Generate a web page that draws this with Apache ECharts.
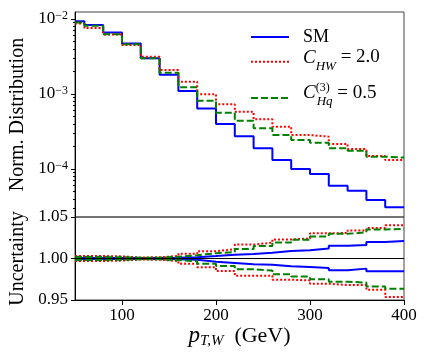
<!DOCTYPE html>
<html lang="en">
<head>
    <meta charset="UTF-8">
    <title>pTW distribution</title>
    <style>
        body { margin: 0; background: #fff; }
        .chart { width: 426px; height: 361px; }
    </style>
</head>
<body>
    <div class="chart"></div>
    <script src="https://cdn.jsdelivr.net/npm/echarts@6.0.0/dist/echarts.min.js"></script>
    <script>
        // bin edges (GeV) and per-bin values
        const binEdges = [50, 60, 80, 100, 120, 140, 160, 180, 200, 220, 240, 260, 280, 300, 320, 340, 360, 380, 400]
        const smDist = [0.0093, 0.0083, 0.0066, 0.0047, 0.0030, 0.00181, 0.0011, 0.00064, 0.000398, 0.000273, 0.000189, 0.000132, 0.000100, 0.0000857, 0.0000598, 0.0000514, 0.0000386, 0.0000308]
        const chwDist = [0.0087, 0.0076, 0.0062, 0.0045, 0.00314, 0.00209, 0.00146, 0.00099, 0.00073, 0.00058, 0.00046, 0.000367, 0.000284, 0.00027, 0.000216, 0.000185, 0.000149, 0.000132]
        const chqDist = [0.0090, 0.0081, 0.00625, 0.0046, 0.0030, 0.00192, 0.00123, 0.00081, 0.000564, 0.00044, 0.000349, 0.000284, 0.000244, 0.000224, 0.000189, 0.000175, 0.000146, 0.000142]

        // uncertainty bands (ratio)
        const smUp = [1.0007, 1.0007, 1.0006, 1.0005, 1.0005, 1.0008, 1.0016, 1.0030, 1.0045, 1.0055, 1.0070, 1.0090, 1.0098, 1.0120, 1.0155, 1.0162, 1.0198, 1.0210]
        const smDown = [0.9993, 0.9993, 0.9994, 0.9995, 0.9995, 0.9992, 0.9984, 0.9960, 0.9945, 0.9930, 0.9925, 0.9908, 0.9898, 0.9886, 0.9858, 0.9878, 0.9845, 0.9845]
        const chwUp = [1.0030, 1.0030, 1.0025, 1.0012, 1.0015, 1.0030, 1.0056, 1.0088, 1.0112, 1.0168, 1.0190, 1.0230, 1.0242, 1.0304, 1.0307, 1.0336, 1.0368, 1.0400]
        const chwDown = [0.9970, 0.9970, 0.9975, 0.9988, 0.9985, 0.9970, 0.9936, 0.9896, 0.9848, 0.9792, 0.9792, 0.9744, 0.9736, 0.9696, 0.9680, 0.9680, 0.9624, 0.9536]
        const chqUp = [1.0018, 1.0017, 1.0015, 1.0010, 1.0010, 1.0020, 1.0040, 1.0064, 1.0078, 1.0114, 1.0150, 1.0194, 1.0227, 1.0266, 1.0297, 1.0315, 1.0350, 1.0358]
        const chqDown = [0.9982, 0.9983, 0.9985, 0.9990, 0.9990, 0.9980, 0.9968, 0.9936, 0.9910, 0.9870, 0.9855, 0.9810, 0.9782, 0.9750, 0.9720, 0.9710, 0.9664, 0.9636]

        const xTicks = [100, 200, 300, 400]
        const logTicks = [1e-4, 1e-3, 1e-2]
        const logMinorTicks = [3e-5, 4e-5, 5e-5, 6e-5, 7e-5, 8e-5, 9e-5,
            2e-4, 3e-4, 4e-4, 5e-4, 6e-4, 7e-4, 8e-4, 9e-4,
            2e-3, 3e-3, 4e-3, 5e-3, 6e-3, 7e-3, 8e-3, 9e-3]

        const serif = 'Liberation Serif'
        const blue = '#0000ff', red = '#ff0000', green = '#008000'

        const chart = echarts.init(document.querySelector('.chart'))

        // histogram -> step points, last edge repeats last value
        function steps (vals) {
            const pts = vals.map((v, i) => [binEdges[i], v])
            pts.push([binEdges[binEdges.length - 1], vals[vals.length - 1]])
            return pts
        }

        const names = ['SM', 'CHW', 'CHq']
        const styles = [
            { color: blue, width: 2, type: 'solid' },
            { color: red, width: 2, type: [2, 2] },
            { color: green, width: 2, type: [7, 3] }
        ]

        function line (name, vals, idx, grid) {
            return {
                name,
                type: 'line',
                step: 'end',
                data: steps(vals),
                xAxisIndex: grid,
                yAxisIndex: grid === 0 ? 0 : 2,
                showSymbol: false,
                symbol: 'none',
                color: styles[idx].color,
                lineStyle: styles[idx],
                emphasis: { disabled: true },
                silent: true
            }
        }

        const series = [
            line(names[0], smDist, 0, 0),
            line(names[1], chwDist, 1, 0),
            line(names[2], chqDist, 2, 0),
            line(names[0], smUp, 0, 1),
            line(names[0], smDown, 0, 1),
            line(names[1], chwUp, 1, 1),
            line(names[1], chwDown, 1, 1),
            line(names[2], chqUp, 2, 1),
            line(names[2], chqDown, 2, 1)
        ]
        series[3].markLine = {
            silent: true,
            symbol: 'none',
            label: { show: false },
            lineStyle: { color: '#000', width: 1, type: 'solid' },
            data: [{ yAxis: 1 }]
        }

        const legendText = {
            SM: '{p|SM}{sp| }',
            CHW: '{c|C}{sub|HW}{t| = 2.0}{sp2| }',
            CHq: '{c3|C}{sup|(3)}{sub3|Hq}{t3| = 0.5}{sp3| }'
        }

        chart.setOption({
            animation: false,
            grid: [
                { left: 75, top: 12, width: 329, height: 205, show: true, borderColor: '#444', borderWidth: 1, outerBoundsMode: 'none' },
                { left: 75, top: 217, width: 329, height: 83, show: true, borderColor: '#444', borderWidth: 1, outerBoundsMode: 'none' }
            ],
            legend: {
                data: names,
                orient: 'vertical',
                left: 245,
                top: 23,
                itemWidth: 38,
                itemHeight: 1,
                itemGap: 2,
                selectedMode: false,
                formatter: name => legendText[name],
                textStyle: {
                    fontFamily: serif,
                    fontSize: 18,
                    color: '#000',
                    rich: {
                        p: { fontFamily: serif, fontSize: 18, lineHeight: 22, padding: [0, 0, 0, 9] },
                        sp: { fontSize: 4, lineHeight: 22 },
                        c: { fontFamily: serif, fontStyle: 'italic', fontSize: 19, lineHeight: 10, verticalAlign: 'top', padding: [0, 0, 0, 9] },
                        sub: { fontFamily: serif, fontStyle: 'italic', fontSize: 13, lineHeight: 10, verticalAlign: 'bottom', padding: [0, 0, 2.4, 0] },
                        t: { fontFamily: serif, fontSize: 19, lineHeight: 10, verticalAlign: 'top', padding: [0, 0, 0, 0] },
                        sp2: { fontSize: 4, lineHeight: 27.4 },
                        c3: { fontFamily: serif, fontStyle: 'italic', fontSize: 19, lineHeight: 10, verticalAlign: 'top', padding: [6.1, 0, 0, 9] },
                        sup: { fontFamily: serif, fontSize: 12, lineHeight: 10, verticalAlign: 'top', width: 1, padding: [4.1, 0, 0, 0] },
                        sub3: { fontFamily: serif, fontStyle: 'italic', fontSize: 13, lineHeight: 10, verticalAlign: 'bottom', padding: [0, 0, 10.6, 0] },
                        t3: { fontFamily: serif, fontSize: 19, lineHeight: 10, verticalAlign: 'top', padding: [6.1, 0, 0, 0] },
                        sp3: { fontSize: 4, lineHeight: 41.2 }
                    }
                }
            },
            xAxis: [
                {
                    type: 'value', gridIndex: 0, min: 50, max: 400,
                    axisLine: { show: false },
                    axisTick: { show: false },
                    axisLabel: { show: false },
                    splitLine: { show: false }
                },
                {
                    type: 'value', gridIndex: 1, min: 50, max: 400,
                    axisLine: { show: true, lineStyle: { color: '#000', width: 1 } },
                    axisTick: { show: true, customValues: xTicks, length: 5, lineStyle: { color: '#000' } },
                    axisLabel: { customValues: xTicks, margin: 7, fontFamily: serif, fontSize: 17, color: '#000' },
                    splitLine: { show: false },
                    name: '{i|p}{s|T,W}{t|  (GeV)}',
                    nameLocation: 'middle',
                    nameGap: 21,
                    nameTextStyle: {
                        rich: {
                            i: { fontFamily: serif, fontStyle: 'italic', fontSize: 23, lineHeight: 24 },
                            s: { fontFamily: serif, fontStyle: 'italic', fontSize: 15, lineHeight: 10, verticalAlign: 'bottom' },
                            t: { fontFamily: serif, fontSize: 22, lineHeight: 24 }
                        }
                    }
                }
            ],
            yAxis: [
                {
                    type: 'log', gridIndex: 0, min: 2.29e-5, max: 0.0124,
                    axisLine: { show: true, lineStyle: { color: '#000', width: 1 } },
                    axisTick: { show: true, customValues: logTicks, length: 4, lineStyle: { color: '#000' } },
                    axisLabel: {
                        customValues: logTicks,
                        margin: 7,
                        formatter: v => '{b|10}{e|\u2212' + Math.round(-Math.log10(v)) + '}',
                        rich: {
                            b: { fontFamily: serif, fontSize: 17, lineHeight: 18, color: '#000' },
                            e: { fontFamily: serif, fontSize: 12, lineHeight: 12, verticalAlign: 'top', color: '#000' }
                        }
                    },
                    splitLine: { show: false },
                    name: 'Norm. Distribution',
                    nameLocation: 'middle',
                    nameGap: 47,
                    nameTextStyle: { fontFamily: serif, fontSize: 20, color: '#000' }
                },
                {
                    // minor log ticks only
                    type: 'log', gridIndex: 0, min: 2.29e-5, max: 0.0124, position: 'left',
                    axisLine: { show: false },
                    axisTick: { show: true, customValues: logMinorTicks, length: 2, lineStyle: { color: '#000' } },
                    axisLabel: { show: false },
                    splitLine: { show: false }
                },
                {
                    type: 'value', gridIndex: 1, min: 0.95, max: 1.05, interval: 0.05,
                    axisLine: { show: true, lineStyle: { color: '#000', width: 1 } },
                    axisTick: { show: true, length: 4, lineStyle: { color: '#000' } },
                    axisLabel: { margin: 7, fontFamily: serif, fontSize: 17, color: '#000', formatter: v => v.toFixed(2) },
                    splitLine: { show: false },
                    name: 'Uncertainty',
                    nameLocation: 'middle',
                    nameGap: 47,
                    nameTextStyle: { fontFamily: serif, fontSize: 20, color: '#000' }
                }
            ],
            series
        })
    </script>
</body>
</html>
